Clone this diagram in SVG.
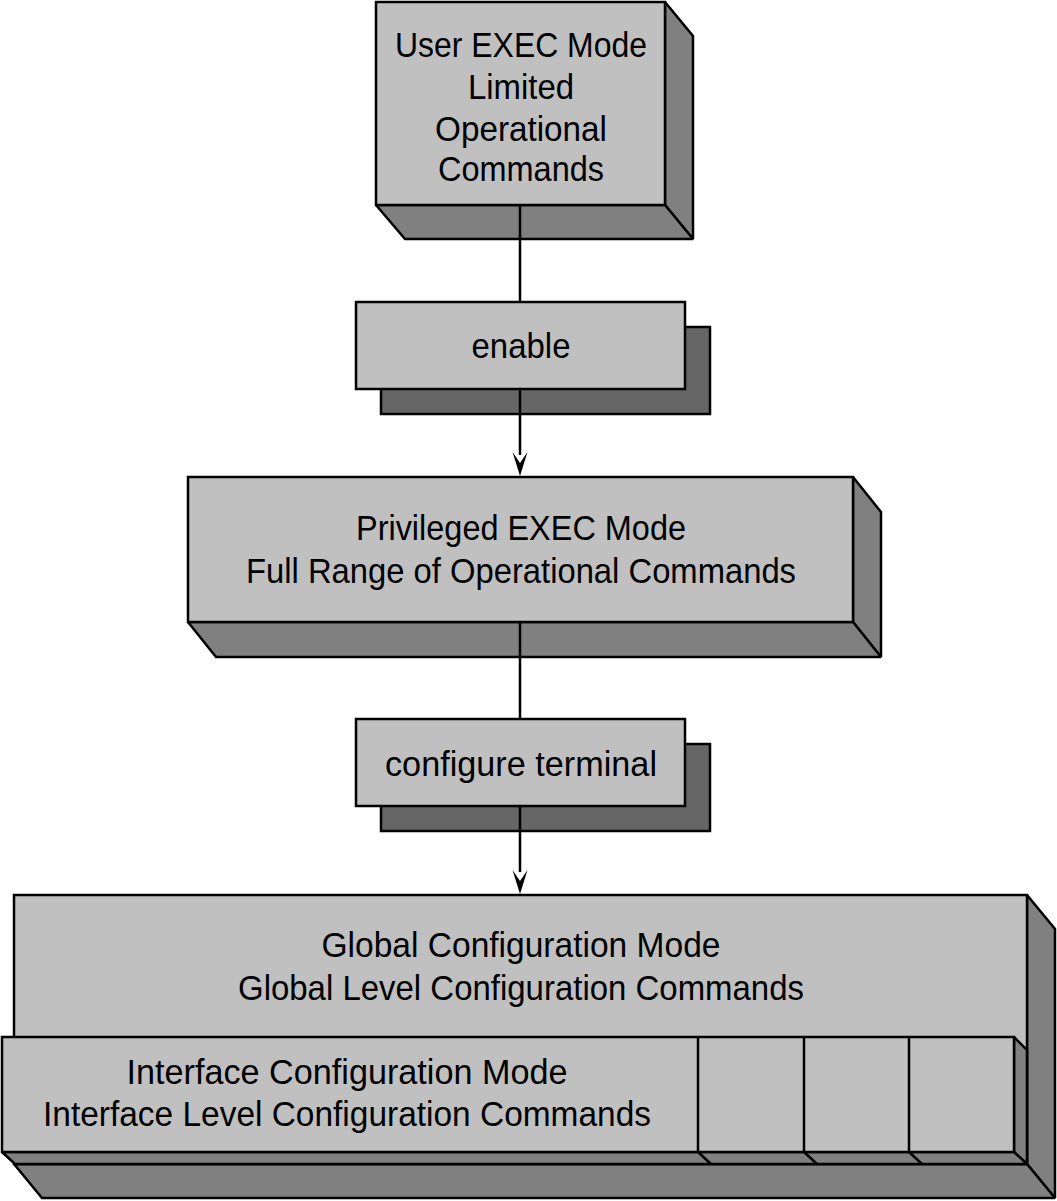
<svg xmlns="http://www.w3.org/2000/svg" width="1057" height="1201" viewBox="0 0 1057 1201">
<style>
.front{fill:#c0c0c0;stroke:#000;stroke-width:2.5;stroke-linejoin:miter;stroke-miterlimit:2}
.side{fill:#808080;stroke:#000;stroke-width:2.5;stroke-linejoin:miter;stroke-miterlimit:2}
.shadow{fill:#666666;stroke:#000;stroke-width:2.5}
.div{fill:none;stroke:#000;stroke-width:2.5}
.t{font-family:"Liberation Sans",Arial,sans-serif;font-size:35px;fill:#000;text-anchor:middle}
.conn{stroke:#000;stroke-width:2.5;fill:none}
.head{fill:#000}
</style>

<g id="connectors">
<line class="conn" x1="520" y1="205" x2="520" y2="302"/>
<line class="conn" x1="520" y1="389" x2="520" y2="455"/>
<path class="head" d="M520,476 L512.5,452 L520,463 L527.5,452 Z"/>
<line class="conn" x1="520" y1="622" x2="520" y2="719"/>
<line class="conn" x1="520" y1="806" x2="520" y2="872"/>
<path class="head" d="M520,894 L512.5,870 L520,881 L527.5,870 Z"/>
</g>

<g id="user-exec">
<polygon class="side" points="665,2 693,36 693,239 665,205"/>
<polygon class="side" points="376,205 665,205 693,239 405,239"/>
<rect class="front" x="376" y="2" width="289" height="203"/>
<line class="conn" x1="520" y1="205" x2="520" y2="239"/>
<text class="t" x="521" y="57" textLength="252" lengthAdjust="spacingAndGlyphs">User EXEC Mode</text>
<text class="t" x="521" y="99" textLength="106" lengthAdjust="spacingAndGlyphs">Limited</text>
<text class="t" x="521" y="141" textLength="172" lengthAdjust="spacingAndGlyphs">Operational</text>
<text class="t" x="521" y="181" textLength="166" lengthAdjust="spacingAndGlyphs">Commands</text>
</g>

<g id="enable">
<rect class="shadow" x="381" y="327" width="329" height="87"/>
<rect class="front" x="356" y="302" width="329" height="87"/>
<line class="conn" x1="520" y1="389" x2="520" y2="414"/>
<text class="t" x="521" y="358" textLength="99" lengthAdjust="spacingAndGlyphs">enable</text>
</g>

<g id="privileged-exec">
<polygon class="side" points="853,477 881,512 881,657 853,622"/>
<polygon class="side" points="188,622 853,622 881,657 216,657"/>
<rect class="front" x="188" y="477" width="665" height="145"/>
<line class="conn" x1="520" y1="622" x2="520" y2="657"/>
<text class="t" x="521" y="540" textLength="330" lengthAdjust="spacingAndGlyphs">Privileged EXEC Mode</text>
<text class="t" x="521" y="583" textLength="550" lengthAdjust="spacingAndGlyphs">Full Range of Operational Commands</text>
</g>

<g id="configure-terminal">
<rect class="shadow" x="381" y="744" width="329" height="87"/>
<rect class="front" x="356" y="719" width="329" height="87"/>
<line class="conn" x1="520" y1="806" x2="520" y2="831"/>
<text class="t" x="521" y="776" textLength="272" lengthAdjust="spacingAndGlyphs">configure terminal</text>
</g>

<g id="global-config">
<polygon class="side" points="1027,895 1055,929 1055,1198 1027,1164"/>
<polygon class="side" points="14,1164 1027,1164 1055,1198 42,1198"/>
<rect class="front" x="14" y="895" width="1013" height="269"/>
<text class="t" x="521" y="957" textLength="399" lengthAdjust="spacingAndGlyphs">Global Configuration Mode</text>
<text class="t" x="521" y="1000" textLength="566" lengthAdjust="spacingAndGlyphs">Global Level Configuration Commands</text>
</g>

<g id="interface-config">
<polygon class="side" points="1014,1037 1027,1050 1027,1164 1014,1152"/>
<polygon class="side" points="2,1152 1014,1152 1027,1164 15,1164"/>
<rect class="front" x="2" y="1037" width="1012" height="115"/>
<line class="div" x1="698" y1="1037" x2="698" y2="1152"/>
<line class="div" x1="804" y1="1037" x2="804" y2="1152"/>
<line class="div" x1="909" y1="1037" x2="909" y2="1152"/>
<line class="div" x1="698" y1="1152" x2="711" y2="1164"/>
<line class="div" x1="804" y1="1152" x2="817" y2="1164"/>
<line class="div" x1="909" y1="1152" x2="922" y2="1164"/>
<text class="t" x="347" y="1084" textLength="441" lengthAdjust="spacingAndGlyphs">Interface Configuration Mode</text>
<text class="t" x="347" y="1126" textLength="608" lengthAdjust="spacingAndGlyphs">Interface Level Configuration Commands</text>
</g>
</svg>
